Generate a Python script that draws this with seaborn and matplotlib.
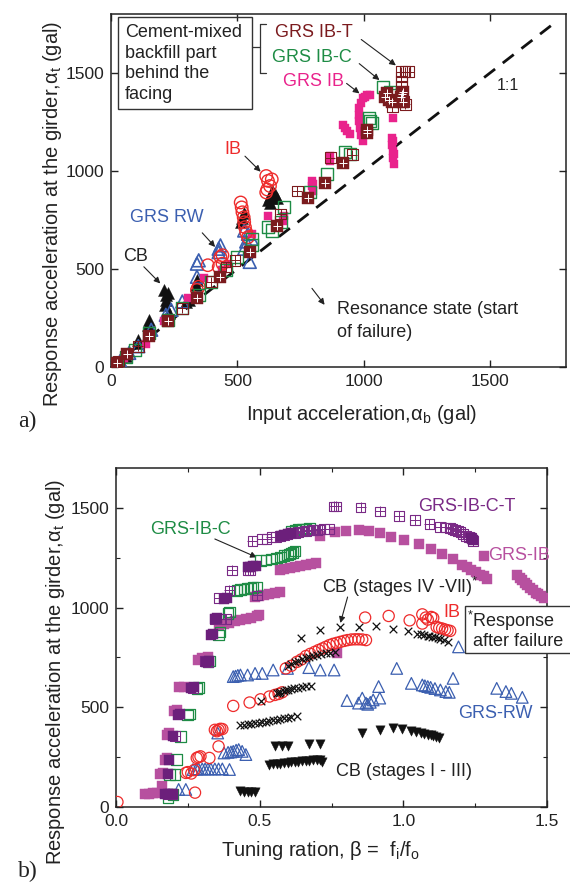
import numpy as np
import pandas as pd
import matplotlib
matplotlib.use("Agg")
import matplotlib.pyplot as plt
import seaborn as sns
from matplotlib.patches import Rectangle
from matplotlib.lines import Line2D

# ---------------- DATA: panel a) (input accel vs response accel, gal) ----------------
a_cb_x = [19, 36, 58, 105, 108, 145, 152, 155, 210, 217, 217, 224, 212, 230, 296, 310, 342, 335,
          520, 526, 515, 620, 630, 640, 650, 655, 635, 640, 628]
a_cb_y = [17, 34, 56, 123, 140, 216, 241, 199, 393, 367, 342, 376, 317, 273, 333, 341, 444, 420,
          759, 786, 740, 850, 870, 890, 880, 860, 900, 860, 835]
a_rw_x = [36, 72, 108, 159, 217, 238, 282, 340, 340, 347, 426, 433, 426, 527, 542, 556, 549, 527, 535]
a_rw_y = [30, 72, 106, 190, 266, 292, 334, 460, 527, 544, 603, 620, 586, 696, 679, 654, 536, 603, 640]
a_ib_x = [7, 340, 347, 383, 433, 441, 441, 426, 513, 517, 520, 525, 527, 530, 535, 542,
          614, 621, 629, 614, 636, 618]
a_ib_y = [8, 393, 409, 519, 561, 570, 527, 510, 839, 814, 789, 763, 738, 713, 687, 662,
          974, 949, 923, 890, 957, 905]
a_grsib_x = [10, 51, 137, 210, 303, 368, 441, 462, 556, 621, 679, 686, 795, 795, 799, 801, 867, 867,
             1012, 997, 990, 983, 983, 983, 987, 990, 997, 1026, 1004,
             918, 925, 932, 944, 1117, 1113, 1113, 1116, 1117, 1120, 1115, 1118]
a_grsib_y = [13, 47, 115, 233, 350, 452, 494, 527, 679, 772, 746, 772, 949, 923, 898, 935, 1075, 1050,
             1387, 1370, 1345, 1319, 1286, 1252, 1218, 1185, 1151, 1387, 1378,
             1235, 1218, 1201, 1188, 1269, 1168, 1134, 1100, 1067, 1033, 1150, 1085]
a_grsibc_x = [22, 58, 94, 152, 224, 282, 347, 397, 455, 499, 556, 556, 621, 636, 686, 672,
              788, 853, 925, 946, 1019, 1026, 1033, 1077, 1105, 1120]
a_grsibc_y = [19, 51, 89, 174, 241, 300, 367, 435, 494, 561, 620, 654, 716, 696, 814, 738,
              890, 982, 1097, 1087, 1269, 1252, 1244, 1429, 1404, 1387]
a_ibt_fill_x = [25, 65, 152, 227, 340, 433, 549, 657, 780, 845, 917, 1011, 1011,
                1084, 1098, 1113, 1149, 1156, 1156, 1092, 1150]
a_ibt_fill_y = [22, 64, 157, 233, 350, 460, 586, 721, 864, 940, 1041, 1193, 1210,
                1378, 1361, 1353, 1378, 1404, 1353, 1395, 1390]
a_ibt_open_x = [29, 108, 282, 397, 455, 491, 672, 737, 867, 954, 1149, 1163, 1178, 1149, 1149,
                1149, 1156, 1113, 1165]
a_ibt_open_y = [30, 106, 300, 435, 510, 544, 780, 898, 1067, 1083, 1505, 1505, 1505, 1479, 1454,
                1429, 1353, 1328, 1340]
one_to_one = [0, 1740]

# ---------------- DATA: panel b) (tuning ratio vs response accel, gal) ----------------
b_grsib_x = [0.101, 0.116, 0.129, 0.144, 0.161, 0.154, 0.165, 0.170, 0.177, 0.177, 0.186, 0.203, 0.211,
             0.220, 0.237, 0.287, 0.300, 0.319,
             0.357, 0.376, 0.395, 0.414, 0.433, 0.452, 0.471, 0.490, 0.499,
             0.484, 0.499, 0.515, 0.534, 0.553, 0.572,
             0.570, 0.585, 0.604, 0.623, 0.642, 0.661, 0.680, 0.696,
             0.768,
             0.711, 0.762, 0.800, 0.844, 0.882, 0.920, 0.958, 1.003, 1.053, 1.097, 1.135, 1.173,
             1.205, 1.222, 1.237, 1.252, 1.266, 1.281, 1.291, 1.281,
             1.395, 1.405, 1.413, 1.422, 1.432, 1.441, 1.451, 1.460, 1.470, 1.480, 1.490]
b_grsib_y = [63, 63, 68, 72, 105, 163, 171, 238, 246, 363, 371, 479, 487,
             604, 604, 737, 745, 753,
             911, 920, 925, 931, 936, 941, 948, 956, 961,
             1053, 1058, 1061, 1066, 1073, 1078,
             1189, 1194, 1199, 1202, 1207, 1214, 1219, 1226,
             770,
             1360, 1377, 1385, 1389, 1382, 1372, 1355, 1339, 1319, 1294, 1269, 1244,
             1216, 1202, 1189, 1178, 1165, 1157, 1143, 1261,
             1161, 1150, 1136, 1122, 1111, 1098, 1086, 1075, 1066, 1057, 1049]
b_ibct_open_x = [0.475, 0.509, 0.524, 0.541, 0.556, 0.572, 0.585, 0.597, 0.610, 0.623, 0.635, 0.648,
                 0.661, 0.673, 0.686, 0.699, 0.711, 0.724, 0.743,
                 0.757, 0.765, 0.851, 0.920, 0.984, 1.041, 1.091, 1.129, 1.148, 1.161, 1.171, 1.180,
                 1.190, 1.199, 1.209, 1.218, 1.228, 1.237, 1.243,
                 0.403, 0.458, 0.467, 0.357, 0.395, 0.490, 0.344, 0.363, 0.382, 0.319, 0.268, 0.205,
                 0.180, 0.195, 0.310]
b_ibct_open_y = [1335, 1344, 1346, 1352, 1355, 1360, 1363, 1367, 1372, 1375, 1379, 1382,
                 1385, 1387, 1389, 1390, 1392, 1394, 1394,
                 1507, 1507, 1502, 1482, 1460, 1440, 1419, 1405, 1402, 1399, 1395, 1389,
                 1384, 1377, 1370, 1360, 1355, 1349, 1335,
                 1186, 1186, 1190, 1049, 1086, 1061, 944, 944, 944, 728, 595, 354,
                 63, 63, 733]
b_ibct_fill_x = [0.172, 0.180, 0.188, 0.197, 0.180, 0.186, 0.200, 0.216, 0.224, 0.262, 0.272, 0.313,
                 0.322, 0.332, 0.338, 0.344, 0.351, 0.376, 0.386, 0.458, 0.468, 0.478, 0.487,
                 0.573, 0.585, 0.597, 0.610, 1.237, 1.243]
b_ibct_fill_y = [63, 63, 67, 63, 163, 238, 354, 462, 465, 595, 600, 728,
                 733, 861, 866, 944, 948, 1044, 1049, 1202, 1205, 1207, 1210,
                 1360, 1363, 1367, 1372, 1349, 1340]
b_ibc_x = [0.182, 0.199, 0.186, 0.205, 0.211, 0.224, 0.249, 0.256, 0.281, 0.287, 0.319, 0.325, 0.357,
           0.363, 0.395, 0.389, 0.420, 0.433, 0.445, 0.458, 0.468, 0.477, 0.490,
           0.503, 0.522, 0.541, 0.559, 0.572, 0.585, 0.597, 0.604, 0.610, 0.616, 0.623,
           0.610, 0.623, 0.635, 0.648, 0.661, 0.673]
b_ibc_y = [47, 63, 163, 163, 238, 354, 462, 467, 595, 600, 728, 733, 861,
           878, 978, 970, 1086, 1090, 1093, 1096, 1099, 1101, 1103,
           1236, 1240, 1244, 1249, 1254, 1261, 1265, 1269, 1274, 1277, 1285,
           1385, 1390, 1394, 1394, 1394, 1399]
b_ib_x = [0.005, 0.275, 0.243, 0.250, 0.262, 0.272, 0.281, 0.294, 0.287, 0.325, 0.344, 0.357, 0.363,
          0.370, 0.351, 0.357, 0.408, 0.465, 0.503, 0.534, 0.553, 0.566, 0.578,
          0.591, 0.610, 0.630, 0.645, 0.661, 0.676, 0.692, 0.705, 0.718, 0.730, 0.743, 0.755,
          0.768, 0.781, 0.794, 0.806, 0.819, 0.832, 0.844, 0.857, 0.870,
          0.867, 0.949, 1.022, 1.066, 1.078, 1.085, 1.097, 1.104, 1.066, 1.116, 1.125, 1.135,
          1.145, 1.154, 1.163]
b_ib_y = [25, 72, 171, 175, 168, 185, 246, 254, 250, 246, 387, 387, 392,
          391, 380, 304, 507, 524, 540, 554, 562, 567, 575,
          695, 708, 728, 740, 757, 768, 778, 787, 795, 803, 812, 818,
          823, 828, 833, 837, 840, 841, 841, 840, 837,
          950, 958, 936, 966, 950, 940, 953, 948, 920, 903, 898, 895,
          890, 886, 883]
b_cb47_x = [0.643, 0.711, 0.781, 0.844, 0.904, 0.965, 1.015, 1.047, 1.060, 1.072, 1.085, 1.091, 1.100,
            1.110, 1.120, 1.129, 1.140, 1.154,
            0.597, 0.610, 0.623, 0.635, 0.648, 0.660, 0.673, 0.686, 0.699, 0.712, 0.730, 0.745, 0.762,
            0.503, 0.559, 0.566, 0.572, 0.585, 0.592, 0.598, 0.610, 0.620, 0.635, 0.648, 0.661, 0.680,
            0.433, 0.445, 0.458, 0.471, 0.484, 0.496, 0.509, 0.522, 0.534, 0.547, 0.560, 0.572,
            0.585, 0.598, 0.610, 0.629]
b_cb47_y = [848, 890, 903, 903, 906, 895, 883, 870, 866, 861, 858, 856, 855,
            853, 848, 843, 835, 828,
            707, 718, 728, 733, 740, 745, 750, 755, 762, 765, 770, 774, 777,
            532, 570, 572, 579, 583, 585, 587, 590, 595, 598, 604, 607, 607,
            412, 413, 415, 417, 420, 422, 424, 427, 432, 435, 437, 441,
            444, 447, 451, 454]
b_cb13_x = [0.433, 0.446, 0.458, 0.471, 0.484,
            0.534, 0.547, 0.560, 0.572, 0.585, 0.597, 0.610, 0.623, 0.635, 0.648, 0.660, 0.673, 0.686,
            0.699, 0.711, 0.718,
            0.554, 0.576, 0.597, 0.673, 0.711,
            0.857, 0.920, 0.965, 0.996, 1.028, 1.045, 1.060, 1.072, 1.085, 1.095, 1.104, 1.114, 1.123]
b_cb13_y = [80, 77, 75, 75, 75,
            213, 214, 216, 218, 219, 221, 224, 225, 227, 229, 230, 232, 234,
            234, 236, 228,
            304, 304, 304, 318, 318,
            371, 387, 396, 391, 382, 377, 371, 367, 363, 359, 354, 350, 346]
b_rw_x = [0.218, 0.243, 0.268, 0.280, 0.287, 0.300, 0.310, 0.320, 0.330, 0.344, 0.357, 0.370, 0.395,
          0.354, 0.376, 0.390, 0.400, 0.408, 0.418, 0.427, 0.439, 0.452,
          0.408, 0.416, 0.424, 0.433, 0.458, 0.484, 0.509, 0.547, 0.597, 0.671, 0.711, 0.759,
          0.804, 0.844, 0.857, 0.870, 0.876, 0.885, 0.895, 0.914, 0.918, 0.977,
          1.028, 1.066, 1.075, 1.085, 1.095, 1.110, 1.129, 1.148, 1.160, 1.173, 1.192,
          1.325, 1.357, 1.376, 1.414]
b_rw_y = [88, 88, 188, 190, 191, 191, 191, 191, 191, 191, 191, 191, 188,
          371, 271, 274, 276, 279, 285, 288, 279, 263,
          654, 656, 660, 662, 662, 670, 670, 687, 695, 699, 687, 687,
          534, 521, 546, 521, 515, 525, 537, 604, 546, 695,
          620, 612, 608, 604, 600, 594, 587, 579, 575, 645, 803,
          595, 579, 570, 550]

# ---------------- STYLE ----------------
sns.set_theme(style="ticks")
plt.rcParams["font.family"] = ["Liberation Sans", "DejaVu Sans"]
plt.rcParams["mathtext.fontset"] = "custom"
plt.rcParams["mathtext.rm"] = "Liberation Sans"
plt.rcParams["mathtext.it"] = "Liberation Sans:italic"
plt.rcParams["mathtext.bf"] = "Liberation Sans:bold"
plt.rcParams["axes.edgecolor"] = "#222222"

C_IBT = "#7b1b1e"
C_GREEN = "#1e8c45"
C_PINK = "#e9238c"
C_RED = "#ee2b2b"
C_BLUE = "#3b5fb0"
C_PURPLE = "#7a2a86"
C_PURPLE_F = "#6c1f7b"
C_ORCHID = "#b7509f"

TICK_FS = 12.5
LAB_FS = 14.5
ANN_FS = 13


def filled(ax, x, y, marker, s, c, z=3):
    sns.scatterplot(x=x, y=y, ax=ax, marker=marker, s=s, color=c, edgecolor=c,
                    linewidth=0.3, legend=False, zorder=z)


def hollow(ax, x, y, marker, s, c, lw=0.9, z=3):
    sns.scatterplot(x=x, y=y, ax=ax, marker=marker, s=s, color=c, facecolor="none",
                    edgecolor=c, linewidth=lw, legend=False, zorder=z)


def lineart(ax, x, y, marker, s, c, lw=0.9, z=3):
    sns.scatterplot(x=x, y=y, ax=ax, marker=marker, s=s, color=c,
                    linewidth=lw, legend=False, zorder=z)


fig = plt.figure(figsize=(5.70, 8.84), dpi=100)
axa = fig.add_axes([111 / 570, 1 - 367 / 884, 455 / 570, 353 / 884])
axb = fig.add_axes([116 / 570, 1 - 807 / 884, 431 / 570, 339 / 884])

for ax in (axa, axb):
    ax.tick_params(direction="in", which="both", top=True, right=True,
                   labelsize=TICK_FS, colors="#222222", pad=5)
    ax.tick_params(which="major", length=5, width=1.0)
    ax.tick_params(which="minor", length=3, width=0.8)
    for sp in ax.spines.values():
        sp.set_linewidth(1.1)
        sp.set_visible(True)

# ---------------- PANEL a ----------------
ax = axa
ax.plot(one_to_one, one_to_one, color="#111111", lw=2.0, dashes=(5, 3.5), zorder=2)
filled(ax, a_cb_x, a_cb_y, "^", 75, "#111111", z=3)
hollow(ax, a_rw_x, a_rw_y, "^", 85, C_BLUE, lw=1.2, z=4)
filled(ax, a_grsib_x, a_grsib_y, "s", 30, C_PINK, z=4)
hollow(ax, a_ib_x, a_ib_y, "o", 80, C_RED, lw=1.0, z=5)
hollow(ax, a_grsibc_x, a_grsibc_y, "s", 75, C_GREEN, lw=1.0, z=5)
filled(ax, a_ibt_fill_x, a_ibt_fill_y, "s", 75, C_IBT, z=6)
lineart(ax, a_ibt_fill_x, a_ibt_fill_y, "+", 40, "white", lw=0.7, z=7)
hollow(ax, a_ibt_open_x, a_ibt_open_y, "s", 60, C_IBT, lw=0.8, z=6)
lineart(ax, a_ibt_open_x, a_ibt_open_y, "+", 60, C_IBT, lw=0.7, z=6)

ax.set_xlim(0, 1800)
ax.set_ylim(0, 1800)
ax.set_xticks([0, 500, 1000, 1500])
ax.set_yticks([0, 500, 1000, 1500])
ax.set_xlabel("")
ax.set_ylabel("")

ax.add_patch(Rectangle((26, 1314), 530, 469, fill=False, edgecolor="#333333", lw=1.0, zorder=8))
ax.text(55, 1707, "Cement-mixed", fontsize=ANN_FS, va="center", ha="left", color="#222222")
ax.text(55, 1600, "backfill part", fontsize=ANN_FS, va="center", ha="left", color="#222222")
ax.text(55, 1495, "behind the", fontsize=ANN_FS, va="center", ha="left", color="#222222")
ax.text(55, 1388, "facing", fontsize=ANN_FS, va="center", ha="left", color="#222222")
# brace
for seg in ([[556, 588], [1631, 1631]], [[588, 588], [1749, 1501]],
            [[588, 612], [1749, 1749]], [[588, 612], [1501, 1501]]):
    ax.add_line(Line2D(seg[0], seg[1], color="#333333", lw=0.9, zorder=8))

ax.text(650, 1707, "GRS IB-T", color=C_IBT, fontsize=ANN_FS, va="center")
ax.text(638, 1580, "GRS IB-C", color=C_GREEN, fontsize=ANN_FS, va="center")
ax.text(680, 1458, "GRS IB", color=C_PINK, fontsize=ANN_FS, va="center")
ax.text(1527, 1437, "1:1", color="#222222", fontsize=11.5, va="center")
ax.text(448, 1109, "IB", color=C_RED, fontsize=ANN_FS, va="center")
ax.text(77, 760, "GRS RW", color=C_BLUE, fontsize=ANN_FS, va="center")
ax.text(48, 561, "CB", color="#222222", fontsize=ANN_FS, va="center")
ax.text(896, 291, "Resonance state (start", color="#222222", fontsize=ANN_FS, va="center")
ax.text(896, 177, "of failure)", color="#222222", fontsize=ANN_FS, va="center")

arr = dict(arrowstyle="-|>", color="#222222", lw=0.8, mutation_scale=9, shrinkA=0, shrinkB=0)
ax.annotate("", xy=(1127, 1538), xytext=(990, 1670), arrowprops=arr)
ax.annotate("", xy=(1062, 1463), xytext=(982, 1547), arrowprops=arr)
ax.annotate("", xy=(983, 1395), xytext=(932, 1446), arrowprops=arr)
ax.annotate("", xy=(592, 996), xytext=(530, 1075), arrowprops=arr)
ax.annotate("", xy=(412, 612), xytext=(361, 684), arrowprops=arr)
ax.annotate("", xy=(195, 426), xytext=(130, 511), arrowprops=arr)
ax.annotate("", xy=(845, 317), xytext=(795, 401), arrowprops=arr)

# ---------------- PANEL b ----------------
ax = axb
filled(ax, b_grsib_x, b_grsib_y, "s", 58, C_ORCHID, z=3)
hollow(ax, b_rw_x, b_rw_y, "^", 70, C_BLUE, lw=0.9, z=4)
filled(ax, b_cb13_x, b_cb13_y, "v", 45, "#111111", z=4)
lineart(ax, b_cb47_x, b_cb47_y, "x", 30, "#111111", lw=0.9, z=5)
hollow(ax, b_ib_x, b_ib_y, "o", 65, C_RED, lw=0.9, z=4)
hollow(ax, b_ibc_x, b_ibc_y, "s", 55, C_GREEN, lw=0.9, z=5)
hollow(ax, b_ibct_open_x, b_ibct_open_y, "s", 50, C_PURPLE, lw=0.8, z=6)
lineart(ax, b_ibct_open_x, b_ibct_open_y, "+", 50, C_PURPLE, lw=0.7, z=6)
filled(ax, b_ibct_fill_x, b_ibct_fill_y, "s", 55, C_PURPLE_F, z=7)

ax.set_xlim(0, 1.5)
ax.set_ylim(0, 1700)
ax.set_xticks([0, 0.5, 1.0, 1.5])
ax.set_xticklabels(["0.0", "0.5", "1.0", "1.5"])
ax.set_yticks([0, 500, 1000, 1500])
ax.set_xticks([0.25, 0.75, 1.25], minor=True)
ax.set_yticks([250, 750, 1250], minor=True)
ax.set_xlabel("")
ax.set_ylabel("")

ax.text(1.053, 1507, "GRS-IB-C-T", color=C_PURPLE, fontsize=ANN_FS, va="center")
ax.text(0.12, 1394, "GRS-IB-C", color=C_GREEN, fontsize=ANN_FS, va="center")
ax.text(1.296, 1261, "GRS-IB", color=C_ORCHID, fontsize=ANN_FS, va="center")
ax.text(0.718, 1103, "CB (stages IV -VII)$^{*}$", color="#222222", fontsize=ANN_FS, va="center")
ax.text(1.139, 975, "IB", color=C_RED, fontsize=ANN_FS, va="center")
ax.text(1.192, 467, "GRS-RW", color=C_BLUE, fontsize=ANN_FS, va="center")
ax.text(0.765, 180, "CB (stages I - III)", color="#222222", fontsize=ANN_FS, va="center")
ax.annotate("", xy=(0.49, 1252), xytext=(0.344, 1344), arrowprops=arr)
ax.annotate("", xy=(0.781, 923), xytext=(0.806, 1053), arrowprops=arr)

# box "*Response after failure" (crosses right spine)
fig.patches.append(Rectangle((465 / 570, 1 - 653 / 884), 110 / 570, 47 / 884,
                             transform=fig.transFigure, facecolor="white",
                             edgecolor="#333333", lw=1.0, zorder=10))
fig.text(511 / 570, 1 - 621 / 884, "$^{*}$Response", fontsize=ANN_FS, ha="center", va="center",
         color="#222222", zorder=11)
fig.text(518 / 570, 1 - 641 / 884, "after failure", fontsize=ANN_FS, ha="center", va="center",
         color="#222222", zorder=11)

# ---------------- figure labels ----------------
fig.text(53 / 570, 1 - 214 / 884, "Response acceleration at the girder,α$_{\\rm t}$ (gal)",
         rotation=90, fontsize=LAB_FS, ha="center", va="center", color="#222222")
fig.text(56 / 570, 1 - 672 / 884, "Response acceleration at the girder,α$_{\\rm t}$ (gal)",
         rotation=90, fontsize=LAB_FS, ha="center", va="center", color="#222222")
fig.text(362 / 570, 1 - 415 / 884, "Input acceleration,α$_{\\rm b}$ (gal)",
         fontsize=LAB_FS, ha="center", va="center", color="#222222")
fig.text(320 / 570, 1 - 850 / 884, "Tuning ration, β =  f$_{\\rm i}$/f$_{\\rm o}$",
         fontsize=LAB_FS, ha="center", va="center", color="#222222")
fig.text(18 / 570, 1 - 421 / 884, "a)", fontsize=17, ha="left", va="center",
         family=["Liberation Serif", "DejaVu Serif"], color="#222222")
fig.text(18 / 570, 1 - 871 / 884, "b)", fontsize=17, ha="left", va="center",
         family=["Liberation Serif", "DejaVu Serif"], color="#222222")

fig.savefig("out.png", dpi=100)
